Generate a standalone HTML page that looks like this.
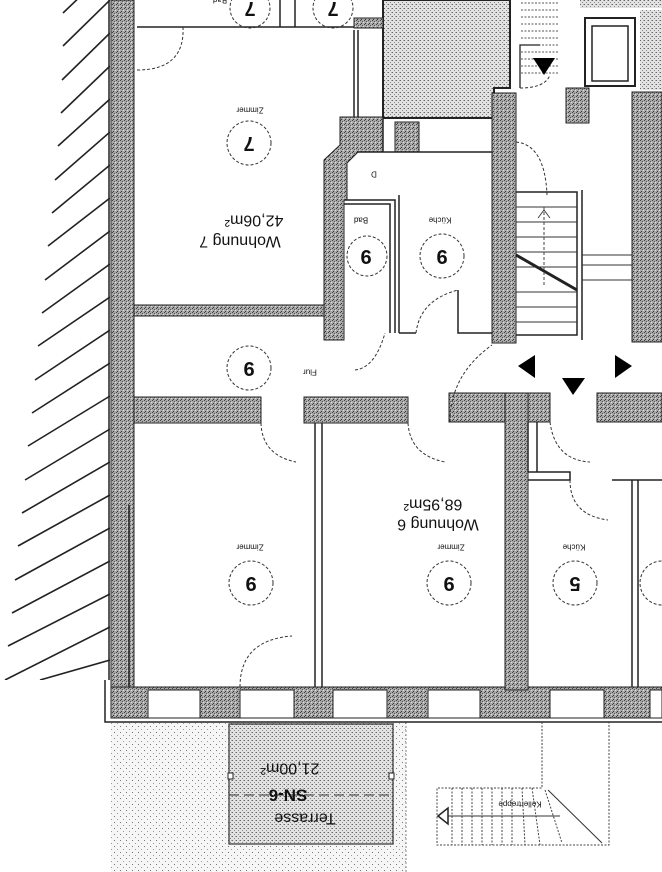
<!DOCTYPE html>
<html><head><meta charset="utf-8"><style>
html,body{margin:0;padding:0;background:#fff;}
svg{display:block;}
text{font-family:"Liberation Sans",sans-serif;fill:#111;}
</style></head><body>
<svg width="662" height="872" viewBox="0 0 662 872" xmlns="http://www.w3.org/2000/svg">
<defs>
<pattern id="w" width="4" height="4" patternUnits="userSpaceOnUse">
<rect width="4" height="4" fill="#a9a9a9"/>
<rect x="0" y="0" width="1" height="1" fill="#444"/>
<rect x="2" y="1" width="1" height="1" fill="#555"/>
<rect x="1" y="3" width="1" height="1" fill="#333"/>
<rect x="3" y="2" width="1" height="1" fill="#ddd"/>
</pattern>
<pattern id="s" width="4" height="4" patternUnits="userSpaceOnUse">
<rect width="4" height="4" fill="#e2e2e2"/>
<rect x="0" y="0" width="1" height="1" fill="#666"/>
<rect x="2" y="2" width="1" height="1" fill="#888"/>
<rect x="3" y="0" width="1" height="1" fill="#aaa"/>
</pattern>
<pattern id="t" width="6" height="6" patternUnits="userSpaceOnUse">
<rect width="6" height="6" fill="#f6f6f6"/>
<rect x="0" y="0" width="1" height="1" fill="#777"/>
<rect x="3" y="3" width="1" height="1" fill="#999"/>
</pattern>
<clipPath id="hc"><rect x="0" y="0" width="110" height="680"/></clipPath>
</defs>

<!-- hatching left -->
<g clip-path="url(#hc)" stroke="#222" stroke-width="1.6">
<line x1="63" y1="13" x2="110" y2="-32"/>
<line x1="63" y1="46" x2="110" y2="0"/>
<line x1="62" y1="80" x2="110" y2="33"/>
<line x1="61" y1="113" x2="110" y2="66"/>
<line x1="58" y1="146" x2="110" y2="99"/>
<line x1="55" y1="180" x2="110" y2="132"/>
<line x1="52" y1="213" x2="110" y2="165"/>
<line x1="48" y1="246" x2="110" y2="198"/>
<line x1="45" y1="280" x2="110" y2="231"/>
<line x1="42" y1="313" x2="110" y2="264"/>
<line x1="38" y1="346" x2="110" y2="297"/>
<line x1="35" y1="380" x2="110" y2="330"/>
<line x1="32" y1="413" x2="110" y2="363"/>
<line x1="28" y1="446" x2="110" y2="396"/>
<line x1="25" y1="480" x2="110" y2="429"/>
<line x1="22" y1="513" x2="110" y2="462"/>
<line x1="18" y1="546" x2="110" y2="495"/>
<line x1="15" y1="580" x2="110" y2="528"/>
<line x1="12" y1="613" x2="110" y2="561"/>
<line x1="8" y1="646" x2="110" y2="594"/>
<line x1="5" y1="680" x2="110" y2="627"/>
<line x1="40" y1="680" x2="110" y2="660"/>
</g>
<line x1="109" y1="0" x2="109" y2="680" stroke="#222" stroke-width="1.5"/>

<!-- terrace stipple -->
<rect x="111" y="722" width="295" height="150" fill="url(#t)"/>
<rect x="229" y="724" width="164" height="120" fill="url(#s)" stroke="#333" stroke-width="1.2"/>
<rect x="228" y="773" width="5" height="6" fill="#fff" stroke="#222"/>
<rect x="389" y="773" width="5" height="6" fill="#fff" stroke="#222"/>
<line x1="229" y1="795" x2="393" y2="795" stroke="#333" stroke-dasharray="10,5"/>
<line x1="406" y1="722" x2="406" y2="872" stroke="#888" stroke-dasharray="2,2"/>

<!-- outer bottom line -->
<polyline points="105,680 105,722 662,722" fill="none" stroke="#222" stroke-width="1.5"/>

<!-- stipple box top (shaft) -->
<path d="M383,0 H510 V88 H494 V118 H383 Z" fill="url(#s)" stroke="#222" stroke-width="2"/>
<!-- top right area -->
<rect x="580" y="0" width="82" height="8" fill="url(#s)"/>
<rect x="585" y="18" width="50" height="68" fill="none" stroke="#222" stroke-width="2"/>
<rect x="592" y="26" width="36" height="55" fill="#fff" stroke="#222" stroke-width="1.5"/>
<rect x="640" y="10" width="22" height="80" fill="url(#s)"/>
<!-- stair rungs near top -->
<g stroke="#555" stroke-width="1" stroke-dasharray="2,1.5">
<line x1="521" y1="3" x2="558" y2="3"/><line x1="521" y1="10" x2="558" y2="10"/>
<line x1="521" y1="17" x2="558" y2="17"/><line x1="521" y1="24" x2="558" y2="24"/>
<line x1="521" y1="31" x2="558" y2="31"/><line x1="521" y1="38" x2="558" y2="38"/>
<line x1="521" y1="45" x2="558" y2="45"/><line x1="521" y1="52" x2="558" y2="52"/>
<line x1="521" y1="59" x2="558" y2="59"/><line x1="521" y1="66" x2="558" y2="66"/>
<line x1="521" y1="73" x2="558" y2="73"/>
</g>
<polyline points="520,88 520,45 540,45" fill="none" stroke="#222" stroke-width="1.3"/>
<polygon points="533,58 555,58 544,75" fill="#000"/>

<!-- walls -->
<g fill="url(#w)" stroke="#222" stroke-width="1">
<rect x="111" y="0" width="23" height="718"/>
<rect x="111" y="687" width="551" height="31"/>
<rect x="134" y="305" width="190" height="11"/>
<rect x="134" y="397" width="127" height="26"/>
<rect x="304" y="397" width="104" height="26"/>
<rect x="449" y="393" width="101" height="29"/>
<rect x="597" y="393" width="65" height="29"/>
<rect x="505" y="393" width="23" height="297"/>
<path d="M340,117 H383 V152 H358 L347,163 V200 H344 V340 H324 V160 L340,145 Z"/>
<rect x="395" y="122" width="24" height="30"/>
<rect x="492" y="93" width="24" height="250"/>
<rect x="566" y="88" width="23" height="35"/>
<rect x="632" y="92" width="30" height="250"/>
<rect x="354" y="18" width="29" height="10"/>
</g>
<!-- windows (white gaps) -->
<g fill="#fff" stroke="#222" stroke-width="1">
<rect x="148" y="690" width="52" height="28"/>
<rect x="240" y="690" width="54" height="28"/>
<rect x="333" y="690" width="54" height="28"/>
<rect x="428" y="690" width="52" height="28"/>
<rect x="550" y="690" width="54" height="28"/>
<rect x="650" y="690" width="12" height="28"/>
</g>

<!-- thin inner walls -->
<g fill="none" stroke="#222" stroke-width="1.5">
<line x1="137" y1="27" x2="354" y2="27"/>
<line x1="280" y1="0" x2="280" y2="27"/><line x1="295" y1="0" x2="295" y2="27"/>
<line x1="354" y1="30" x2="354" y2="117"/><line x1="358" y1="30" x2="358" y2="117"/>
<line x1="383" y1="118" x2="383" y2="152"/>
<line x1="358" y1="152" x2="492" y2="152"/>
<polyline points="344,200 395,200 395,333"/>
<polyline points="344,204 390,204 390,333"/>
<line x1="399" y1="195" x2="399" y2="333"/>
<polyline points="399,333 416,333"/>
<polyline points="458,290 458,333 492,333"/>
<line x1="315" y1="423" x2="315" y2="687"/><line x1="322" y1="423" x2="322" y2="687"/>
<line x1="129" y1="505" x2="129" y2="687"/>
<polyline points="516,192 577,192 577,335 516,335"/>
<line x1="582" y1="190" x2="582" y2="340"/>
<polyline points="528,480 570,480 570,472 528,472"/>
<line x1="632" y1="480" x2="632" y2="687"/><line x1="638" y1="480" x2="638" y2="687"/>
<polyline points="612,480 662,480"/>
<line x1="528" y1="422" x2="528" y2="472"/><line x1="537" y1="422" x2="537" y2="472"/>
</g>
<!-- stairs -->
<g stroke="#333" stroke-width="1">
<line x1="516" y1="207" x2="577" y2="207"/><line x1="516" y1="222" x2="577" y2="222"/>
<line x1="516" y1="237" x2="577" y2="237"/><line x1="516" y1="252" x2="577" y2="252"/>
<line x1="516" y1="267" x2="577" y2="267"/><line x1="516" y1="292" x2="577" y2="292"/>
<line x1="516" y1="307" x2="577" y2="307"/><line x1="516" y1="322" x2="577" y2="322"/>
<line x1="582" y1="255" x2="632" y2="255"/><line x1="582" y1="265" x2="632" y2="265"/>
<line x1="582" y1="280" x2="632" y2="280"/>
</g>
<line x1="516" y1="255" x2="577" y2="290" stroke="#222" stroke-width="3"/>
<line x1="544" y1="207" x2="544" y2="285" stroke="#444" stroke-dasharray="3,2"/>
<polyline points="538,218 544,210 550,218" fill="none" stroke="#444"/>

<!-- triangles -->
<polygon points="518,366 535,355 535,378" fill="#000"/>
<polygon points="562,378 585,378 573,395" fill="#000"/>
<polygon points="632,366 615,355 615,378" fill="#000"/>

<!-- door arcs -->
<g fill="none" stroke="#333" stroke-width="1" stroke-dasharray="3,2">
<path d="M137,70 Q185,70 183,27"/>
<path d="M516,142 Q545,145 547,195"/>
<path d="M416,333 Q420,300 458,290"/>
<path d="M355,370 Q375,368 385,333"/>
<path d="M450,422 Q450,375 492,345"/>
<path d="M261,423 Q262,455 296,462"/>
<path d="M408,423 Q410,455 445,462"/>
<path d="M550,422 Q555,460 590,462"/>
<path d="M240,687 Q240,640 292,636"/>
<path d="M570,480 Q570,515 608,520"/>
<path d="M520,88 Q545,88 550,75"/>
</g>

<!-- kellertreppe -->
<g fill="none" stroke="#444" stroke-width="1" stroke-dasharray="2,1.5">
<polyline points="542,722 542,788 437,788 437,845 609,845 609,722"/>
<line x1="452" y1="788" x2="452" y2="845"/><line x1="462" y1="788" x2="462" y2="845"/>
<line x1="472" y1="788" x2="472" y2="845"/><line x1="482" y1="788" x2="482" y2="845"/>
<line x1="492" y1="788" x2="492" y2="845"/><line x1="502" y1="788" x2="502" y2="845"/>
<line x1="512" y1="788" x2="512" y2="845"/><line x1="522" y1="788" x2="525" y2="845"/>
<line x1="532" y1="788" x2="540" y2="845"/><line x1="545" y1="790" x2="562" y2="843"/>
</g>
<line x1="548" y1="790" x2="602" y2="843" stroke="#333"/>
<line x1="447" y1="816" x2="560" y2="816" stroke="#333"/>
<polygon points="438,816 448,808 448,824" fill="#fff" stroke="#222" stroke-width="1.5"/>

<!-- circles -->
<g fill="none" stroke="#333" stroke-width="1" stroke-dasharray="3,2">
<circle cx="250" cy="8" r="20"/><circle cx="333" cy="8" r="20"/>
<circle cx="249" cy="143" r="22"/>
<circle cx="367" cy="256" r="20"/><circle cx="442" cy="256" r="22"/>
<circle cx="249" cy="368" r="22"/>
<circle cx="251" cy="583" r="22"/><circle cx="449" cy="583" r="22"/>
<circle cx="575" cy="583" r="22"/><circle cx="662" cy="583" r="22"/>
</g>

<!-- texts rotated 180 -->
<g font-weight="bold" font-size="20" text-anchor="middle" dominant-baseline="central">
<text x="250" y="8" transform="rotate(180 250 8)">7</text>
<text x="333" y="8" transform="rotate(180 333 8)">7</text>
<text x="249" y="143" transform="rotate(180 249 143)">7</text>
<text x="366" y="256" transform="rotate(180 366 256)">9</text>
<text x="442" y="256" transform="rotate(180 442 256)">9</text>
<text x="249" y="368" transform="rotate(180 249 368)">9</text>
<text x="251" y="583" transform="rotate(180 251 583)">9</text>
<text x="449" y="583" transform="rotate(180 449 583)">9</text>
<text x="575" y="583" transform="rotate(180 575 583)">5</text>
</g>
<g font-size="16" text-anchor="middle" dominant-baseline="central">
<text x="240" y="241" transform="rotate(180 240 241)">Wohnung 7</text>
<text x="254" y="220" transform="rotate(180 254 220)">42,06m²</text>
<text x="438" y="524" transform="rotate(180 438 524)">Wohnung 6</text>
<text x="433" y="504" transform="rotate(180 433 504)">68,95m²</text>
<text x="290" y="768" transform="rotate(180 290 768)">21,00m²</text>
<text x="305" y="818" transform="rotate(180 305 818)">Terrasse</text>
<text x="288" y="795" font-weight="bold" font-size="17" transform="rotate(180 288 795)">SN-6</text>
</g>
<g font-size="8" text-anchor="middle" dominant-baseline="central" fill="#333">
<text x="220" y="0" transform="rotate(180 220 0)">Bad</text>
<text x="250" y="110" transform="rotate(180 250 110)">Zimmer</text>
<text x="361" y="220" transform="rotate(180 361 220)">Bad</text>
<text x="440" y="220" transform="rotate(180 440 220)">Küche</text>
<text x="310" y="372" transform="rotate(180 310 372)">Flur</text>
<text x="250" y="547" transform="rotate(180 250 547)">Zimmer</text>
<text x="451" y="547" transform="rotate(180 451 547)">Zimmer</text>
<text x="574" y="547" transform="rotate(180 574 547)">Küche</text>
<text x="374" y="174" transform="rotate(180 374 174)">D</text>
<text x="520" y="804" transform="rotate(180 520 804)">Kellertreppe</text>
</g>
</svg>
</body></html>
